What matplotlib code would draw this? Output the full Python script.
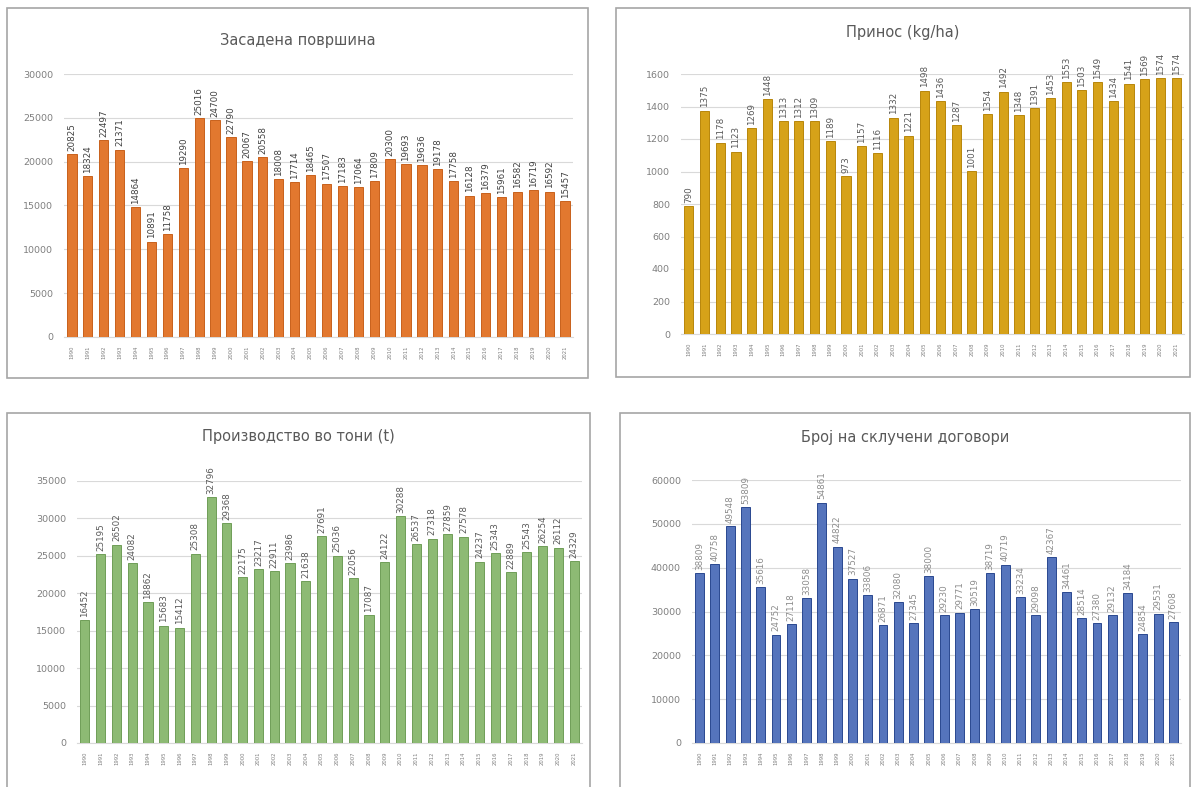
import numpy as np
import matplotlib
matplotlib.use("Agg")
import matplotlib.pyplot as plt
import matplotlib.patches as mpatches

years = [str(y) for y in range(1990, 2022)]

povrshina = [20825, 18324, 22497, 21371, 14864, 10891, 11758, 19290, 25016, 24700,
             22790, 20067, 20558, 18008, 17714, 18465, 17507, 17183, 17064, 17809,
             20300, 19693, 19636, 19178, 17758, 16128, 16379, 15961, 16582, 16719,
             16592, 15457]
prinos = [790, 1375, 1178, 1123, 1269, 1448, 1313, 1312, 1309, 1189,
          973, 1157, 1116, 1332, 1221, 1498, 1436, 1287, 1001, 1354,
          1492, 1348, 1391, 1453, 1553, 1503, 1549, 1434, 1541, 1569,
          1574, 1574]
proizvodstvo = [16452, 25195, 26502, 24082, 18862, 15683, 15412, 25308, 32796, 29368,
                22175, 23217, 22911, 23986, 21638, 27691, 25036, 22056, 17087, 24122,
                30288, 26537, 27318, 27859, 27578, 24237, 25343, 22889, 25543, 26254,
                26112, 24329]
dogovori = [38809, 40758, 49548, 53809, 35616, 24752, 27118, 33058, 54861, 44822,
            37527, 33806, 26871, 32080, 27345, 38000, 29230, 29771, 30519, 38719,
            40719, 33234, 29098, 42367, 34461, 28514, 27380, 29132, 34184, 24854,
            29531, 27608]

W, H = 1195, 787
fig = plt.figure(figsize=(W / 100, H / 100), dpi=100)
fig.patch.set_facecolor("white")


def px_box(x0, y0, x1, y1):
    # pixel box (top-left origin) -> figure fraction [left, bottom, width, height]
    return [x0 / W, 1 - y1 / H, (x1 - x0) / W, (y1 - y0) / H]


panels = [
    # frame, axes box, title y, data, colour, edge, label colour, ymax, step, title
    ((7, 8, 588, 378), (64, 74, 573, 337), 40, povrshina, "#E2782F", "#C8611C",
     "#404040", 30000, 5000, "Засадена површина"),
    ((616, 8, 1190, 377), (681, 74, 1184, 334), 33, prinos, "#D6A219", "#B8860B",
     "#595959", 1600, 200, "Принос (kg/ha)"),
    ((7, 413, 590, 790), (77, 481, 582, 743), 437, proizvodstvo, "#8DBA74", "#6F9E57",
     "#595959", 35000, 5000, "Производство во тони (t)"),
    ((620, 413, 1190, 790), (692, 480, 1181, 743), 437, dogovori, "#5574BC", "#2A4890",
     "#8C8C8C", 60000, 10000, "Број на склучени договори"),
]

for frame, box, ty, vals, color, edge, lcol, ymax, step, title in panels:
    fx0, fy0, fx1, fy1 = frame
    fig.patches.append(mpatches.Rectangle(
        (fx0 / W, 1 - fy1 / H), (fx1 - fx0) / W, (fy1 - fy0) / H,
        transform=fig.transFigure, facecolor="none", edgecolor="#A6A6A6",
        linewidth=1.2, zorder=-1))

    ax = fig.add_axes(px_box(*box))
    x = np.arange(len(vals))
    ax.bar(x, vals, width=0.58, color=color, edgecolor=edge, linewidth=0.7, zorder=3)
    for xi, v in zip(x, vals):
        ax.text(xi, v + ymax * 0.012, str(v), rotation=90, ha="center", va="bottom",
                fontsize=6.3, color=lcol, clip_on=False, zorder=4)

    ax.set_xlim(-0.5, len(vals) - 0.5)
    ax.set_ylim(0, ymax)
    ax.set_yticks(np.arange(0, ymax + 1, step))
    ax.yaxis.grid(True, color="#D9D9D9", linewidth=0.8, zorder=0)
    ax.set_axisbelow(True)
    ax.set_xticks(x)
    ax.set_xticklabels(years, rotation=90, fontsize=3.8, color="#7F7F7F")
    ax.tick_params(axis="y", length=0, labelsize=6.8, labelcolor="#7F7F7F", pad=8)
    ax.tick_params(axis="x", length=0, pad=6)
    for side in ("top", "right", "left"):
        ax.spines[side].set_visible(False)
    ax.spines["bottom"].set_color("#D9D9D9")
    ax.set_facecolor("none")

    cx = (fx0 + fx1) / 2 / W
    fig.text(cx, 1 - ty / H, title, ha="center", va="center",
             fontsize=10.5, color="#595959")

fig.savefig("out.png", dpi=100, facecolor="white")
